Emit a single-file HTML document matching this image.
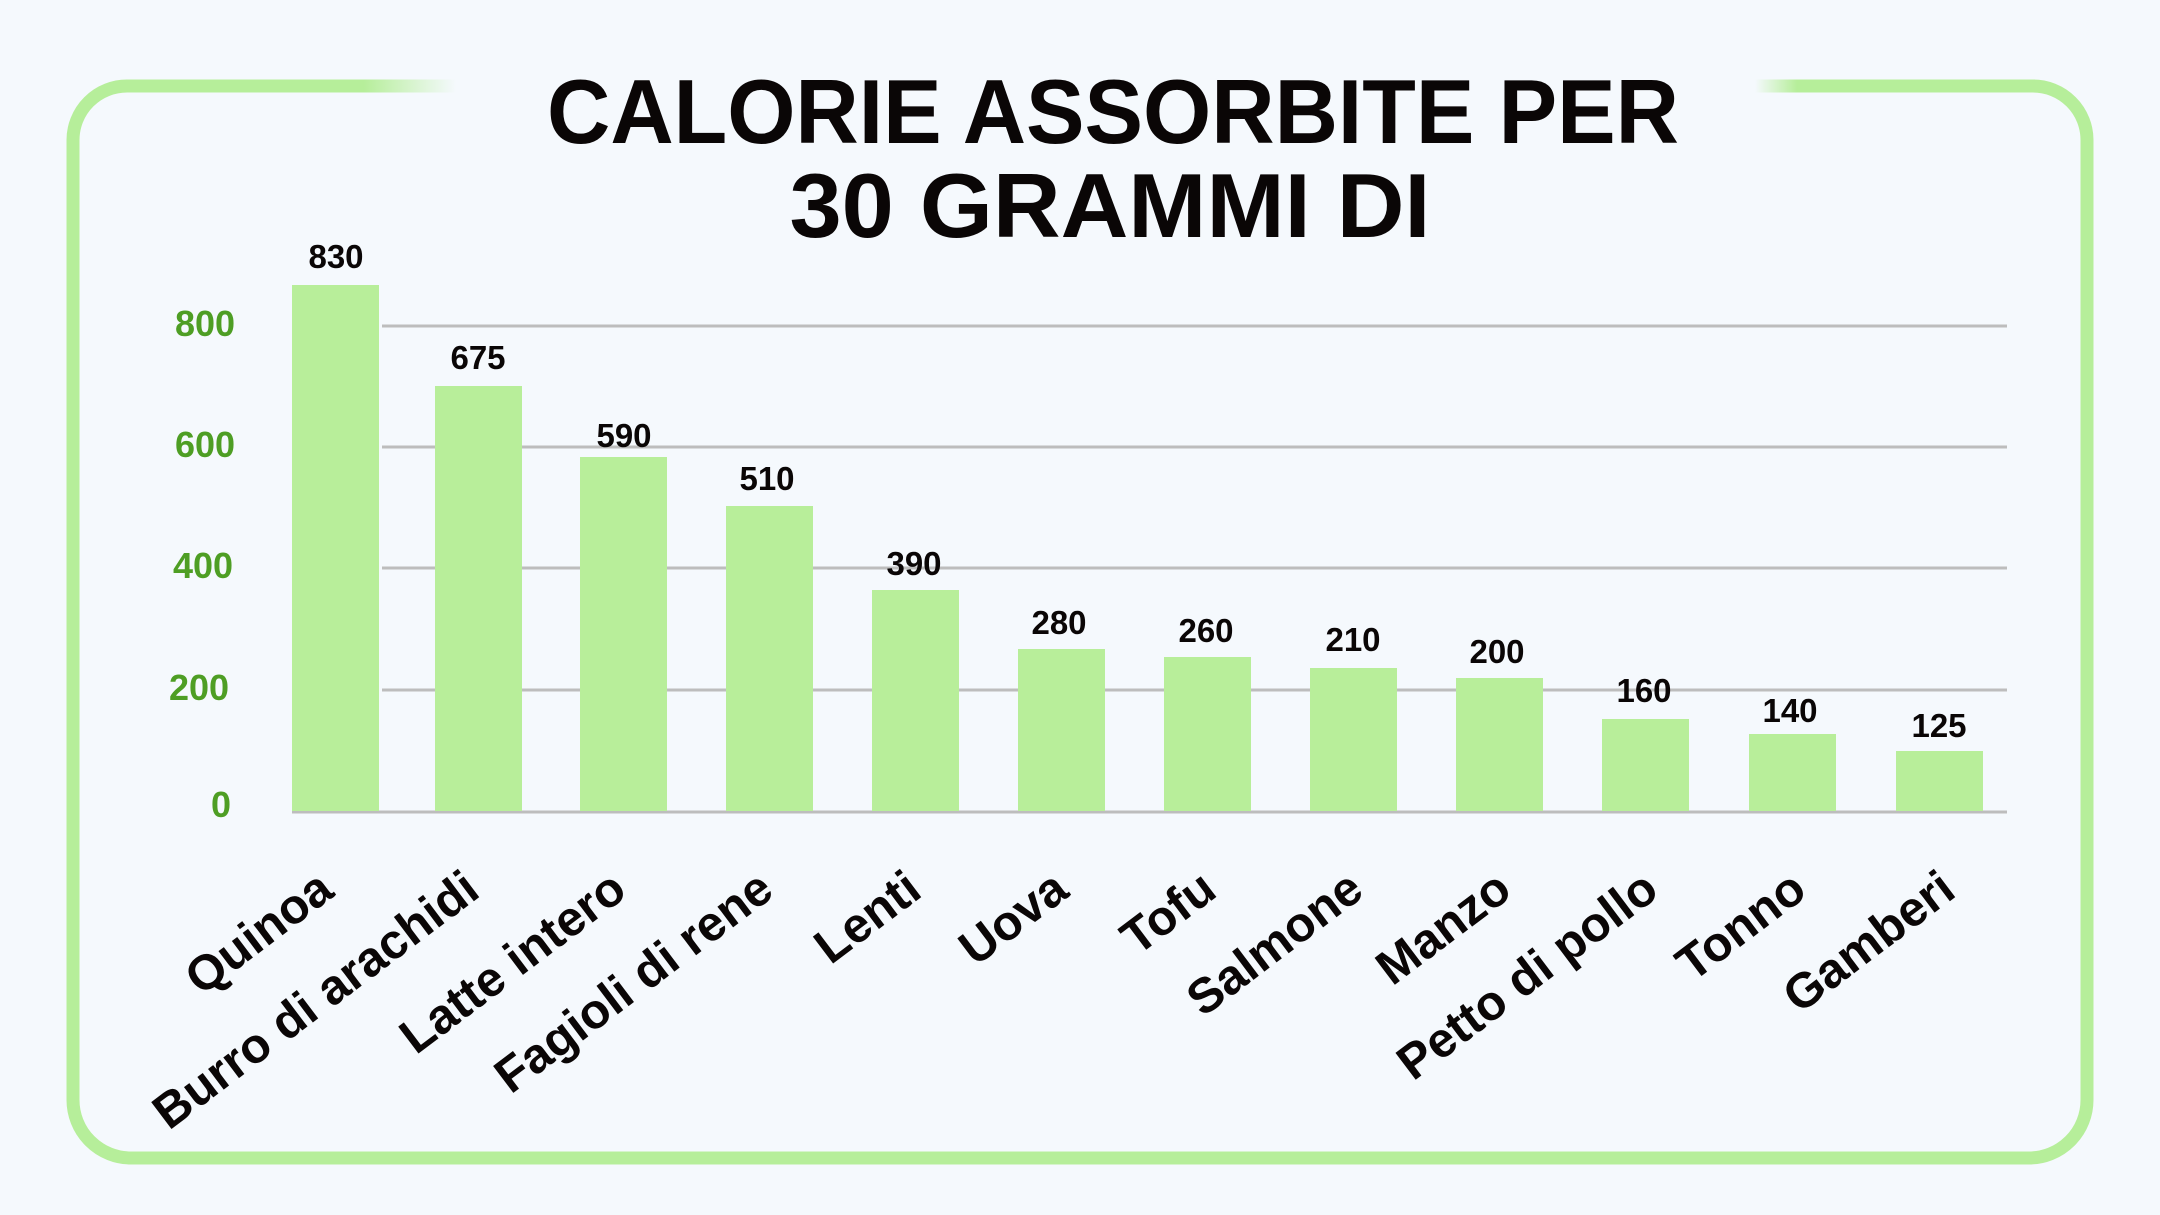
<!DOCTYPE html>
<html><head><meta charset="utf-8"><style>
html,body{margin:0;padding:0;background:#f5f9fd;}
svg{display:block;}
text{font-family:"Liberation Sans",sans-serif;font-weight:bold;}
</style></head><body>
<svg width="2160" height="1215" viewBox="0 0 2160 1215" xmlns="http://www.w3.org/2000/svg">
<defs>
<linearGradient id="fl" x1="0" x2="1"><stop offset="0" stop-color="#b6ee9a"/><stop offset="0.72" stop-color="#b6ee9a"/><stop offset="1" stop-color="#b6ee9a" stop-opacity="0"/></linearGradient>
<linearGradient id="fr" x1="1" x2="0"><stop offset="0" stop-color="#b6ee9a"/><stop offset="0.85" stop-color="#b6ee9a"/><stop offset="1" stop-color="#b6ee9a" stop-opacity="0"/></linearGradient>
</defs>
<rect width="2160" height="1215" fill="#f5f9fd"/>
<path d="M73 1100 V140 A54 54 0 0 1 127 86" fill="none" stroke="#b6ee9a" stroke-width="13"/>
<path d="M2087 1100 V140 A54 54 0 0 0 2033 86" fill="none" stroke="#b6ee9a" stroke-width="13"/>
<path d="M73 1100 A58 58 0 0 0 131 1158 H2029 A58 58 0 0 0 2087 1100" fill="none" stroke="#b6ee9a" stroke-width="13"/>
<rect x="126" y="79.5" width="330" height="13" fill="url(#fl)"/>
<rect x="1755" y="79.5" width="280" height="13" fill="url(#fr)"/>
<text x="1113" y="143" font-size="91" text-anchor="middle" textLength="1132" lengthAdjust="spacingAndGlyphs" fill="#0a0606">CALORIE ASSORBITE PER</text>
<text x="1110" y="237" font-size="91" text-anchor="middle" textLength="641" lengthAdjust="spacingAndGlyphs" fill="#0a0606">30 GRAMMI DI</text>
<g stroke="#bdbdbd" stroke-width="3">
<line x1="382" y1="326" x2="2007" y2="326"/>
<line x1="382" y1="447" x2="2007" y2="447"/>
<line x1="382" y1="568" x2="2007" y2="568"/>
<line x1="382" y1="690" x2="2007" y2="690"/>
<line x1="292" y1="812" x2="2007" y2="812"/>
</g>
<g fill="#4e9e24" font-size="36" text-anchor="middle">
<text x="205" y="336">800</text>
<text x="205" y="457">600</text>
<text x="203" y="578">400</text>
<text x="199" y="700">200</text>
<text x="221" y="817">0</text>
</g>
<g fill="#b8ee9a">
<rect x="292" y="285" width="87" height="526"/>
<rect x="435" y="386" width="87" height="425"/>
<rect x="580" y="457" width="87" height="354"/>
<rect x="726" y="506" width="87" height="305"/>
<rect x="872" y="590" width="87" height="221"/>
<rect x="1018" y="649" width="87" height="162"/>
<rect x="1164" y="657" width="87" height="154"/>
<rect x="1310" y="668" width="87" height="143"/>
<rect x="1456" y="678" width="87" height="133"/>
<rect x="1602" y="719" width="87" height="92"/>
<rect x="1749" y="734" width="87" height="77"/>
<rect x="1896" y="751" width="87" height="60"/>
</g>
<g fill="#0a0606" font-size="33" text-anchor="middle">
<text x="336" y="268">830</text>
<text x="478" y="369">675</text>
<text x="624" y="447">590</text>
<text x="767" y="490">510</text>
<text x="914" y="575">390</text>
<text x="1059" y="634">280</text>
<text x="1206" y="642">260</text>
<text x="1353" y="651">210</text>
<text x="1497" y="663">200</text>
<text x="1644" y="702">160</text>
<text x="1790" y="722">140</text>
<text x="1939" y="737">125</text>
</g>
<g fill="#0a0606" font-size="49" text-anchor="end">
<text transform="translate(336,895) rotate(-37)">Quinoa</text>
<text transform="translate(482,895) rotate(-37)">Burro di arachidi</text>
<text transform="translate(629,895) rotate(-37)">Latte intero</text>
<text transform="translate(776,895) rotate(-37)">Fagioli di rene</text>
<text transform="translate(924,895) rotate(-37)">Lenti</text>
<text transform="translate(1071,895) rotate(-37)">Uova</text>
<text transform="translate(1219,895) rotate(-37)">Tofu</text>
<text transform="translate(1366,895) rotate(-37)">Salmone</text>
<text transform="translate(1514,895) rotate(-37)">Manzo</text>
<text transform="translate(1661,895) rotate(-37)">Petto di pollo</text>
<text transform="translate(1809,895) rotate(-37)">Tonno</text>
<text transform="translate(1958,895) rotate(-37)">Gamberi</text>
</g>
</svg>
</body></html>
